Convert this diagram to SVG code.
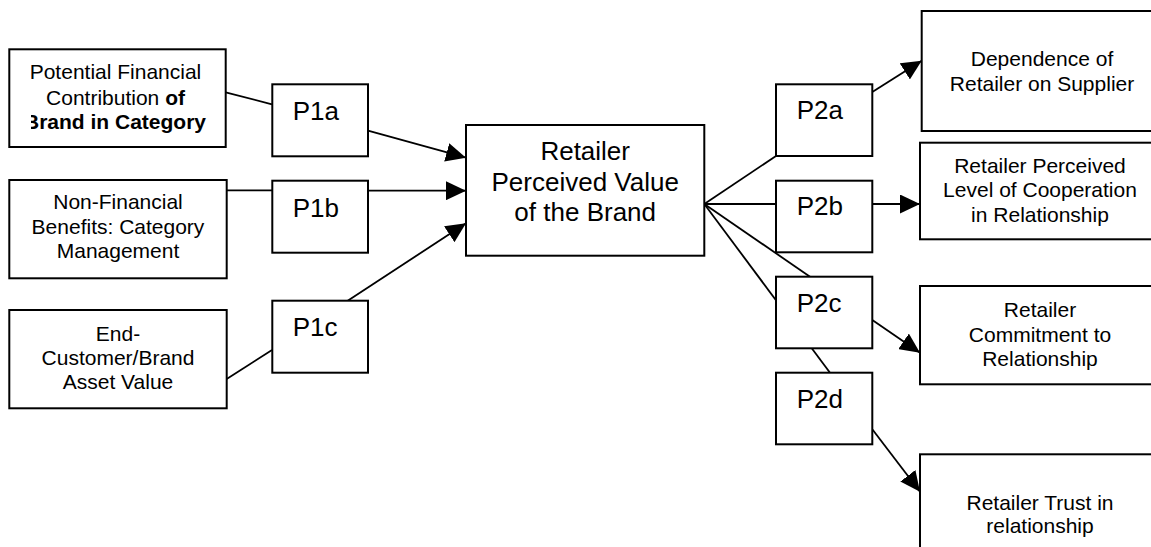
<svg xmlns="http://www.w3.org/2000/svg" width="1151" height="547" viewBox="0 0 1151 547">
<style>
.box{fill:#fff;stroke:#000;stroke-width:2}
.t{font-family:"Liberation Sans",Arial,sans-serif;font-size:21px;fill:#000;text-anchor:middle}
.big{font-family:"Liberation Sans",Arial,sans-serif;font-size:26px;fill:#000;text-anchor:middle}
.p{font-family:"Liberation Sans",Arial,sans-serif;font-size:26px;fill:#000}
.c{stroke:#000;stroke-width:1.8;fill:none}
.a{marker-end:url(#arr)}
</style>
<defs>
<marker id="arr" markerUnits="userSpaceOnUse" markerWidth="20" markerHeight="19" refX="20" refY="9.5" orient="auto">
<path d="M0,0 L20,9.5 L0,19 z" fill="#000"/>
</marker>
<clipPath id="clip1"><rect x="31" y="50" width="189" height="96"/></clipPath>
</defs>
<rect width="1151" height="547" fill="#fff"/>
<g id="connectors">
<line class="c" x1="225.7" y1="92.3" x2="272" y2="104.3"/>
<line class="c a" x1="368" y1="130.7" x2="466" y2="157.7"/>
<line class="c" x1="226.7" y1="190.3" x2="272" y2="190.3"/>
<line class="c a" x1="368" y1="190.7" x2="466" y2="190.7"/>
<line class="c" x1="226.7" y1="379" x2="272" y2="350"/>
<line class="c a" x1="347.7" y1="300.7" x2="466" y2="223.3"/>
<line class="c" x1="704.3" y1="204" x2="776" y2="156"/>
<line class="c" x1="704.3" y1="204" x2="776" y2="204"/>
<line class="c" x1="704.3" y1="204" x2="810" y2="276.7"/>
<line class="c" x1="704.3" y1="204" x2="830" y2="372.7"/>
<line class="c a" x1="872.3" y1="92" x2="921.7" y2="60.7"/>
<line class="c a" x1="872.3" y1="204" x2="920" y2="204"/>
<line class="c a" x1="872.3" y1="320" x2="920" y2="352.7"/>
<line class="c a" x1="872.3" y1="429.3" x2="920" y2="491.7"/>
</g>
<g id="n-financial">
<rect class="box" x="9.3" y="49.3" width="216.4" height="97.7"/>
<g clip-path="url(#clip1)">
<text class="t" x="115.5" y="79.3">Potential Financial</text>
<text class="t" x="115.5" y="105">Contribution <tspan font-weight="bold">of</tspan></text>
<text class="t" x="115" y="129" font-weight="bold">Brand in Category</text>
</g>
</g>
<g id="n-nonfinancial">
<rect class="box" x="9.3" y="180" width="217.4" height="98.3"/>
<text class="t" x="118" y="209.3">Non-Financial</text>
<text class="t" x="118" y="234">Benefits: Category</text>
<text class="t" x="118" y="257.7">Management</text>
</g>
<g id="n-endcustomer">
<rect class="box" x="9.3" y="310" width="217.4" height="98.3"/>
<text class="t" x="118" y="341">End-</text>
<text class="t" x="118" y="365">Customer/Brand</text>
<text class="t" x="118" y="389.3">Asset Value</text>
</g>
<g id="n-p1a">
<rect class="box" x="272.3" y="84.3" width="95.7" height="72"/>
<text class="p" x="292.7" y="120">P1a</text>
</g>
<g id="n-p1b">
<rect class="box" x="272.3" y="180.7" width="95.7" height="72"/>
<text class="p" x="292.7" y="216.5">P1b</text>
</g>
<g id="n-p1c">
<rect class="box" x="272.3" y="300.7" width="95.7" height="72"/>
<text class="p" x="292.7" y="336">P1c</text>
</g>
<g id="n-center">
<rect class="box" x="466" y="125" width="238.3" height="130.7"/>
<text class="big" x="585.2" y="160">Retailer</text>
<text class="big" x="585.2" y="190.7">Perceived Value</text>
<text class="big" x="585.2" y="221">of the Brand</text>
</g>
<g id="n-p2a">
<rect class="box" x="776" y="84.3" width="96.3" height="71.7"/>
<text class="p" x="796.7" y="119">P2a</text>
</g>
<g id="n-p2b">
<rect class="box" x="776" y="180.7" width="96.3" height="71.6"/>
<text class="p" x="796.7" y="215">P2b</text>
</g>
<g id="n-p2c">
<rect class="box" x="776" y="276.7" width="96.3" height="71.6"/>
<text class="p" x="796.7" y="312.3">P2c</text>
</g>
<g id="n-p2d">
<rect class="box" x="776" y="372.7" width="96.3" height="71.6"/>
<text class="p" x="796.7" y="407.7">P2d</text>
</g>
<g id="n-dependence">
<rect class="box" x="921.7" y="11" width="250" height="120"/>
<text class="t" x="1042" y="66">Dependence of</text>
<text class="t" x="1042" y="90.7">Retailer on Supplier</text>
</g>
<g id="n-cooperation">
<rect class="box" x="920" y="142.7" width="250" height="96.6"/>
<text class="t" x="1040" y="173.3">Retailer Perceived</text>
<text class="t" x="1040" y="197.3">Level of Cooperation</text>
<text class="t" x="1040" y="221.7">in Relationship</text>
</g>
<g id="n-commitment">
<rect class="box" x="920" y="286" width="250" height="98.3"/>
<text class="t" x="1040" y="316.7">Retailer</text>
<text class="t" x="1040" y="341.7">Commitment to</text>
<text class="t" x="1040" y="366">Relationship</text>
</g>
<g id="n-trust">
<rect class="box" x="920" y="454.3" width="250" height="120"/>
<text class="t" x="1040" y="510">Retailer Trust in</text>
<text class="t" x="1040" y="533.3">relationship</text>
</g>
</svg>
